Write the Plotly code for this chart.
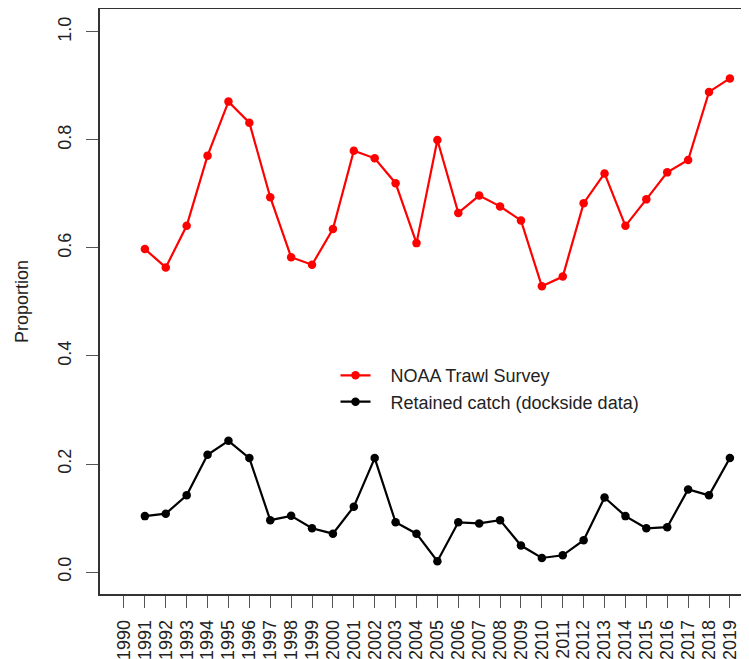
import plotly.graph_objects as go

years = list(range(1991, 2020))
tick_years = list(range(1990, 2020))

noaa_trawl = [0.598, 0.564, 0.641, 0.771, 0.871, 0.832, 0.694, 0.583, 0.569, 0.635,
              0.780, 0.766, 0.720, 0.609, 0.800, 0.665, 0.697, 0.677, 0.651, 0.529,
              0.547, 0.683, 0.738, 0.641, 0.690, 0.740, 0.763, 0.889, 0.914]

retained_catch = [0.1035, 0.108, 0.142, 0.217, 0.243, 0.211, 0.096, 0.104, 0.081, 0.071,
                  0.121, 0.211, 0.092, 0.071, 0.020, 0.092, 0.090, 0.096, 0.049, 0.026,
                  0.031, 0.059, 0.138, 0.1035, 0.081, 0.083, 0.153, 0.142, 0.211]

y_ticks = [0.0, 0.2, 0.4, 0.6, 0.8, 1.0]
y_tick_labels = ["0.0", "0.2", "0.4", "0.6", "0.8", "1.0"]

FONT = "Liberation Sans, Arial, sans-serif"
TXT = "#222222"
PAD = "\u00a0\u00a0\u00a0"

fig = go.Figure()
fig.add_trace(go.Scatter(
    x=years, y=noaa_trawl, mode="lines+markers", name=PAD + "NOAA Trawl Survey",
    line=dict(color="#ff0000", width=2.2),
    marker=dict(color="#ff0000", size=8.5),
))
fig.add_trace(go.Scatter(
    x=years, y=retained_catch, mode="lines+markers", name=PAD + "Retained catch (dockside data)",
    line=dict(color="#000000", width=2.2),
    marker=dict(color="#000000", size=8.5),
))

# page body has an 8px margin, so the figure is sized to fit inside the window
fig.update_layout(
    width=741, height=651,
    margin=dict(l=92, r=0, t=1, b=65, pad=0),
    paper_bgcolor="white", plot_bgcolor="white",
    font=dict(family=FONT, size=18, color=TXT),
    showlegend=True,
    legend=dict(
        x=(335.5 - 100) / 649, y=0.405, xanchor="left", yanchor="top",
        bgcolor="rgba(0,0,0,0)", borderwidth=0,
        font=dict(family=FONT, size=18, color=TXT),
        tracegroupgap=0,
    ),
)

fig.update_xaxes(
    range=[1988.852, 2019.914], automargin=False,
    tickmode="array", tickvals=tick_years, ticktext=[str(y) for y in tick_years],
    tickangle=-90, ticks="outside", ticklen=12, tickcolor="#555555", tickwidth=1,
    showline=True, mirror=True, linecolor="#333333", linewidth=1.5,
    showgrid=False, zeroline=False,
    tickfont=dict(family=FONT, size=18, color=TXT),
    ticklabelstandoff=5,
)
fig.update_yaxes(
    range=[-0.0407, 1.0425], automargin=False,
    tickmode="array", tickvals=y_ticks, ticktext=y_tick_labels,
    tickangle=-90, ticks="outside", ticklen=12, tickcolor="#555555", tickwidth=1,
    showline=True, mirror=False, linecolor="#333333", linewidth=1.5,
    showgrid=False, zeroline=False,
    tickfont=dict(family=FONT, size=18, color=TXT),
    ticklabelstandoff=8,
    title=dict(text="Proportion", font=dict(family=FONT, size=18, color=TXT), standoff=22),
)

fig.write_html("out.html")
